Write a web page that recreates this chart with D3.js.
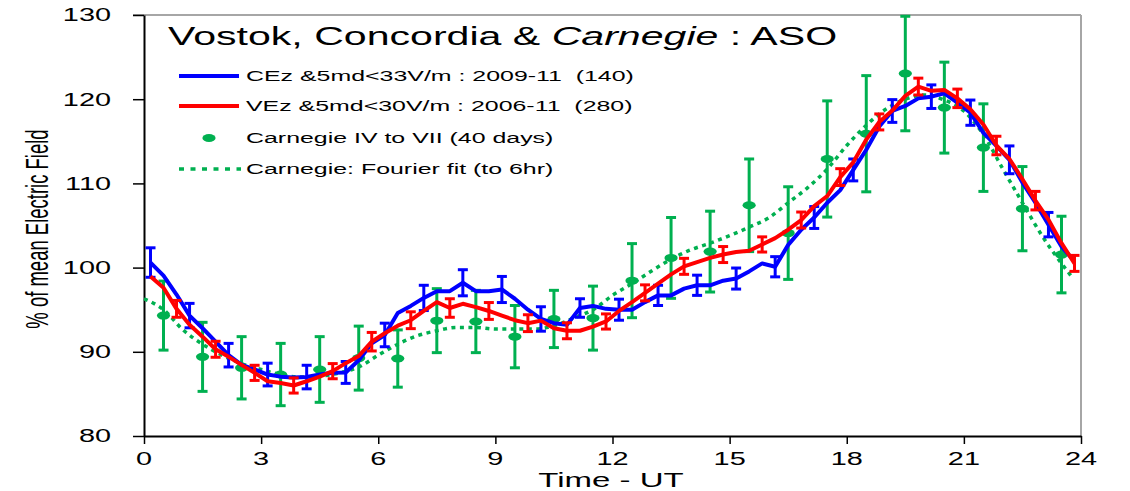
<!DOCTYPE html>
<html><head><meta charset="utf-8">
<script src="https://cdn.jsdelivr.net/npm/d3@7"></script>
<style>html,body{margin:0;padding:0;background:#fff}svg{display:block}</style>
</head><body><svg id="c" width="1130" height="491"></svg>
<script>
// ---------- data ----------
const yTicks = [80, 90, 100, 110, 120, 130];
const xTicks = [0, 3, 6, 9, 12, 15, 18, 21, 24];

// 20-minute resolution (72 points), hours of day
const hours = d3.range(72).map(k => (k + 0.5) / 3);

// Concordia CEz (blue)
const blueValues = [100.6, 99.05, 96.8, 94.3, 92.8, 91.2, 89.6, 88.45, 87.9, 87.3, 87.05, 86.95,
  87.0, 87.3, 87.5, 87.55, 89.0, 91.0, 92.0, 94.6, 95.45, 96.4, 97.2, 97.2,
  98.2, 97.2, 97.2, 97.4, 96.3, 95.0, 93.9, 93.4, 93.2, 95.2, 95.45, 95.1,
  95.0, 95.0, 95.9, 96.7, 96.7, 97.5, 97.9, 97.9, 98.45, 98.7, 99.55, 100.5,
  100.1, 102.7, 104.5, 105.95, 107.7, 109.2, 111.6, 114.0, 116.75, 118.6, 119.2, 120.1,
  120.3, 120.7, 119.6, 118.4, 116.0, 114.45, 112.8, 110.1, 107.7, 105.1, 102.5, 100.75];
// error bars on every third blue point (k = 0,3,6,...)
const blueErr = [1.75, 1.45, 1.4, 1.35, 1.4, 1.3, 1.4, 1.5, 1.55, 1.55, 1.45, 1.1,
  1.25, 1.2, 1.2, 1.25, 1.2, 1.3, 1.3, 1.35, 1.4, 1.5, 1.65, 1.45];

// Vostok VEz (red)
const redValues = [98.95, 97.6, 95.1, 93.2, 91.8, 90.3, 89.4, 88.45, 87.5, 86.5, 86.3, 86.0,
  86.5, 87.05, 87.7, 88.65, 89.5, 91.2, 92.2, 93.1, 93.75, 94.85, 95.9, 95.2,
  95.7, 95.3, 94.85, 94.3, 93.75, 93.4, 93.7, 92.8, 92.5, 92.5, 93.0, 93.6,
  94.85, 95.9, 97.0, 98.1, 99.2, 100.15, 100.65, 101.15, 101.55, 101.85, 102.0, 102.75,
  103.5, 104.5, 105.65, 107.3, 108.5, 110.75, 112.5, 115.2, 117.3, 118.65, 120.4, 121.5,
  121.0, 121.1, 120.1, 118.8, 117.0, 114.5, 112.9, 110.5, 107.95, 105.7, 102.9, 100.5];
// error bars on every third red point (k = 2,5,8,...)
const redErr = [1.0, 0.95, 0.9, 0.9, 0.9, 1.1, 1.0, 1.1, 1.0, 1.0, 0.95, 0.9,
  0.95, 0.95, 0.95, 0.9, 0.95, 1.0, 0.95, 1.0, 1.1, 1.1, 1.1, 0.95];

// Carnegie cruises IV to VII (green points)
const carnegieHours = [0.5, 1.5, 2.5, 3.5, 4.5, 5.5, 6.5, 7.5, 8.5, 9.5, 10.5, 11.5,
  12.5, 13.5, 14.5, 15.5, 16.5, 17.5, 18.5, 19.5, 20.5, 21.5, 22.5, 23.5];
const carnegieValues = [94.3, 89.4, 88.1, 87.3, 87.9, 89.25, 89.2, 93.7, 93.6, 91.8, 93.9, 94.0,
  98.45, 101.15, 101.9, 107.4, 104.1, 112.9, 115.9, 123.05, 119.0, 114.25, 107.0, 101.55];
const carnegieErr = [4.1, 4.1, 3.7, 3.7, 3.9, 3.8, 3.4, 3.8, 3.7, 3.7, 3.4, 3.8,
  4.4, 4.8, 4.8, 5.5, 5.5, 6.9, 6.9, 6.8, 5.4, 5.2, 5.0, 4.55];

// Carnegie Fourier fit (dotted green)
const fitHours = [0, 0.5, 1, 1.5, 2, 2.5, 3, 3.5, 4, 4.5, 5, 5.5, 6, 6.5, 7, 7.5, 8, 8.5, 9, 9.5,
  10, 10.5, 11, 11.5, 12, 12.5, 13, 13.5, 14, 14.5, 15, 15.5, 16, 16.5, 17, 17.5, 18, 18.5, 19, 19.5,
  20, 20.5, 21, 21.5, 22, 22.5, 23, 23.5, 23.75];
const fitValues = [96.3, 95.0, 92.6, 90.9, 89.6, 88.6, 87.9, 87.3, 87.0, 87.1, 87.5, 88.2, 89.6, 90.9,
  91.9, 92.5, 92.9, 92.9, 92.7, 92.7, 92.7, 93.1, 94.0, 95.0, 96.7, 98.1, 99.6, 101.0, 102.1, 102.9,
  103.8, 104.8, 105.9, 107.7, 109.5, 111.7, 114.5, 116.9, 118.8, 120.0, 120.5, 119.9, 118.6, 115.8,
  111.7, 107.7, 103.8, 100.5, 99.0];

const legendLabels = [
  "CEz &5md<33V/m : 2009-11  (140)",
  "VEz &5md<30V/m : 2006-11  (280)",
  "Carnegie IV to VII (40 days)",
  "Carnegie: Fourier fit (to 6hr)"
];

// ---------- drawing ----------
const svg = d3.select('#c');
const x = d3.scaleLinear([0, 24], [144, 1081]);
const y = d3.scaleLinear([80, 130], [436, 15]);
const SX = 1.65;
const FONT = "'Liberation Sans', Arial, sans-serif";
const BLUE = "#0000FF", RED = "#FF0000", GREEN = "#00B050";

// frame (grey top & right)
svg.append("line").attr("x1", 133).attr("x2", x(24)).attr("y1", y(130)).attr("y2", y(130))
  .attr("stroke", "#A6A6A6").attr("stroke-width", 2);
svg.append("line").attr("x1", x(24)).attr("x2", x(24)).attr("y1", y(130)).attr("y2", y(80))
  .attr("stroke", "#A6A6A6").attr("stroke-width", 2);

// axes
const gy = svg.append("g").attr("transform", `translate(${x(0)},0)`)
  .call(d3.axisLeft(y).tickValues(yTicks).tickSize(11).tickSizeOuter(0).tickFormat(""));
const gx = svg.append("g").attr("transform", `translate(0,${y(80)})`)
  .call(d3.axisBottom(x).tickValues(xTicks).tickSize(8).tickSizeOuter(0).tickFormat(""));
[gy, gx].forEach(g => {
  g.select(".domain").attr("stroke", "#000").attr("stroke-width", 2);
  g.selectAll(".tick line").attr("stroke", "#000").attr("stroke-width", 1.5);
});

// tick labels (horizontally stretched like the reference)
svg.append("g").selectAll("text").data(yTicks).join("text")
  .attr("transform", d => `translate(111,${y(d) + 6.3}) scale(${SX},1)`)
  .attr("text-anchor", "end").attr("font-family", FONT).attr("font-size", 17.5)
  .text(d => d);
svg.append("g").selectAll("text").data(xTicks).join("text")
  .attr("transform", d => `translate(${x(d)},465) scale(${SX},1)`)
  .attr("text-anchor", "middle").attr("font-family", FONT).attr("font-size", 17.5)
  .text(d => d);

// axis titles
svg.append("text").attr("transform", `translate(611,487) scale(${SX},1)`)
  .attr("text-anchor", "middle").attr("font-family", FONT).attr("font-size", 20)
  .text("Time - UT");
svg.append("text").attr("transform", `translate(48,229) scale(${SX},1) rotate(-90)`)
  .attr("text-anchor", "middle").attr("font-family", FONT).attr("font-size", 18.5)
  .text("% of mean Electric Field");

// error bar helper
function errBars(g, xs, ys, es, color, w, cap) {
  const sel = g.selectAll("g").data(xs.map((h, i) => ({h, v: ys[i], e: es[i]}))).join("g");
  sel.append("line").attr("x1", d => x(d.h)).attr("x2", d => x(d.h))
    .attr("y1", d => y(d.v - d.e)).attr("y2", d => y(d.v + d.e));
  sel.append("line").attr("x1", d => x(d.h) - cap).attr("x2", d => x(d.h) + cap)
    .attr("y1", d => y(d.v + d.e)).attr("y2", d => y(d.v + d.e));
  sel.append("line").attr("x1", d => x(d.h) - cap).attr("x2", d => x(d.h) + cap)
    .attr("y1", d => y(d.v - d.e)).attr("y2", d => y(d.v - d.e));
  sel.selectAll("line").attr("stroke", color).attr("stroke-width", w);
}

// Carnegie error bars + points
errBars(svg.append("g"), carnegieHours, carnegieValues, carnegieErr, GREEN, 3, 5);
svg.append("g").selectAll("ellipse").data(carnegieHours).join("ellipse")
  .attr("cx", d => x(d)).attr("cy", (d, i) => y(carnegieValues[i]))
  .attr("rx", 6.6).attr("ry", 4).attr("fill", GREEN);

// Fourier fit
svg.append("path")
  .attr("d", d3.line().x(d => x(d[0])).y(d => y(d[1])).curve(d3.curveMonotoneX)(fitHours.map((h, i) => [h, fitValues[i]])))
  .attr("fill", "none").attr("stroke", GREEN).attr("stroke-width", 3.5)
  .attr("stroke-dasharray", "4 4.5");

// blue line + bars
const line = d3.line().x(d => x(d[0])).y(d => y(d[1]));
svg.append("path").attr("d", line(hours.map((h, i) => [h, blueValues[i]])))
  .attr("fill", "none").attr("stroke", BLUE).attr("stroke-width", 4).attr("stroke-linejoin", "round");
const bIdx = blueErr.map((e, j) => j * 3);
errBars(svg.append("g"), bIdx.map(k => hours[k]), bIdx.map(k => blueValues[k]), blueErr, BLUE, 3, 5);

// red line + bars
svg.append("path").attr("d", line(hours.map((h, i) => [h, redValues[i]])))
  .attr("fill", "none").attr("stroke", RED).attr("stroke-width", 4).attr("stroke-linejoin", "round");
const rIdx = redErr.map((e, j) => j * 3 + 2);
errBars(svg.append("g"), rIdx.map(k => hours[k]), rIdx.map(k => redValues[k]), redErr, RED, 3, 5);

// title
const title = svg.append("text").attr("transform", `translate(168,45) scale(${SX},1)`)
  .attr("font-family", FONT).attr("font-size", 24.9);
title.append("tspan").text("Vostok, Concordia & ");
title.append("tspan").attr("font-style", "italic").text("Carnegie");
title.append("tspan").text(" : ASO");

// legend
const legY = [76, 106, 138, 169];
const lg = svg.append("g");
lg.append("line").attr("x1", 179).attr("x2", 239).attr("y1", legY[0]).attr("y2", legY[0])
  .attr("stroke", BLUE).attr("stroke-width", 4);
lg.append("line").attr("x1", 179).attr("x2", 239).attr("y1", legY[1]).attr("y2", legY[1])
  .attr("stroke", RED).attr("stroke-width", 4);
lg.append("ellipse").attr("cx", 209).attr("cy", legY[2]).attr("rx", 6.6).attr("ry", 4).attr("fill", GREEN);
lg.append("line").attr("x1", 179).attr("x2", 241).attr("y1", legY[3]).attr("y2", legY[3])
  .attr("stroke", GREEN).attr("stroke-width", 3.5).attr("stroke-dasharray", "5 6.5");
lg.selectAll("text").data(legendLabels).join("text")
  .attr("transform", (d, i) => `translate(246,${legY[i] + 5.4}) scale(${SX},1)`)
  .attr("font-family", FONT).attr("font-size", 15.1)
  .attr("xml:space", "preserve").style("white-space", "pre")
  .text(d => d);
</script></body></html>
